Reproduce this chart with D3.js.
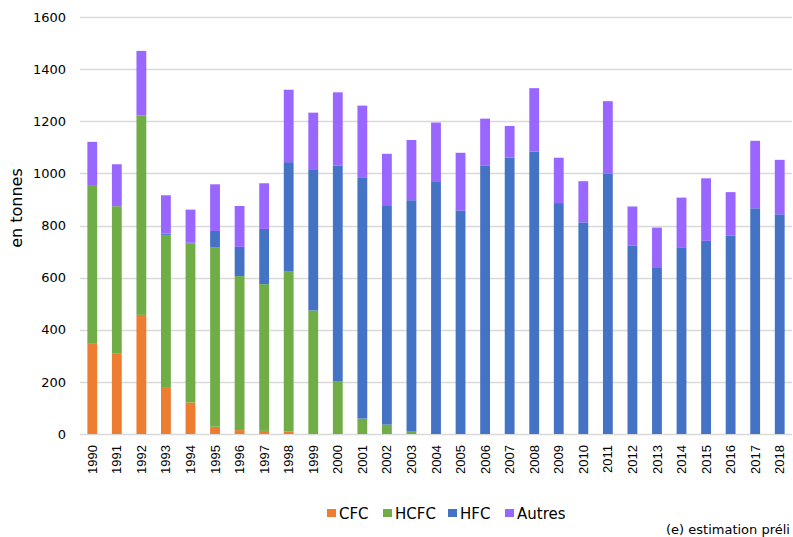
<!DOCTYPE html>
<html>
<head>
<meta charset="utf-8">
<script src="https://cdn.jsdelivr.net/npm/d3@7"></script>
<style>
  body { margin: 0; background: #fff; }
  svg { display: block; font-family: "DejaVu Sans", sans-serif; }
</style>
</head>
<body>
<div id="chart"></div>
<script>
const years = ["1990","1991","1992","1993","1994","1995","1996","1997","1998","1999",
  "2000","2001","2002","2003","2004","2005","2006","2007","2008","2009",
  "2010","2011","2012","2013","2014","2015","2016","2017","2018"];
const cfc    = [346,308,457,180,121,28,15,12,9,0, 0,0,0,0,0,0,0,0,0,0, 0,0,0,0,0,0,0,0,0];
const hcfc   = [606,566,765,584,610,689,591,563,616,474, 203,59,36,9,0,0,0,0,0,0, 0,0,0,0,0,0,0,0,0];
const hfc    = [0,0,0,5,3,62,112,212,418,542, 826,926,842,888,970,858,1029,1060,1083,886, 812,998,722,640,714,741,762,866,843];
const autres = [169,161,248,147,127,179,157,175,278,217, 282,275,197,231,225,221,181,122,244,174, 158,279,151,152,193,240,166,259,209];
const yTicks = [0,200,400,600,800,1000,1200,1400,1600];

const series = [
  { name: "CFC", values: cfc, color: "#ed7d31" },
  { name: "HCFC", values: hcfc, color: "#70ad47" },
  { name: "HFC", values: hfc, color: "#4472c4" },
  { name: "Autres", values: autres, color: "#9966ff" }
];

const W = 793, H = 537;
const margin = { top: 17, right: 1, bottom: 103, left: 80 };
const innerW = W - margin.left - margin.right;
const innerH = H - margin.top - margin.bottom;

const svg = d3.select("#chart").append("svg")
    .attr("width", W)
    .attr("height", H);

const g = svg.append("g")
    .attr("transform", `translate(${margin.left},${margin.top})`);

const x = d3.scaleBand()
    .domain(years)
    .range([0, innerW])
    .paddingInner(0.6)
    .paddingOuter(0.3);

const y = d3.scaleLinear()
    .domain([0, 1600])
    .range([innerH, 0]);

// gridlines
g.append("g")
    .selectAll("line")
    .data(yTicks)
    .join("line")
    .attr("x1", 0)
    .attr("x2", innerW)
    .attr("y1", d => Math.round(y(d)) + 0.5)
    .attr("y2", d => Math.round(y(d)) + 0.5)
    .attr("stroke", "#d9d9d9")
    .attr("stroke-width", 1.5);

// stacked data
const rows = years.map((yr, i) => {
    const r = { year: yr };
    series.forEach(s => r[s.name] = s.values[i]);
    return r;
});
const stack = d3.stack().keys(series.map(s => s.name))(rows);

g.append("g")
    .selectAll("g")
    .data(stack)
    .join("g")
    .attr("fill", (d, i) => series[i].color)
    .selectAll("rect")
    .data(d => d)
    .join("rect")
    .attr("x", d => x(d.data.year))
    .attr("width", x.bandwidth())
    .attr("y", d => y(d[1]))
    .attr("height", d => Math.max(0, y(d[0]) - y(d[1])));

// y axis labels
g.append("g")
    .attr("class", "y axis")
    .call(d3.axisLeft(y).tickValues(yTicks).tickFormat(d3.format("d")).tickSize(0).tickPadding(14))
    .call(a => a.select(".domain").remove())
    .call(a => a.selectAll("text")
        .attr("font-size", 13)
        .attr("font-family", "'DejaVu Sans', sans-serif")
        .attr("fill", "#000"));

// x axis labels
g.append("g")
    .attr("class", "x axis")
    .attr("transform", `translate(0,${innerH})`)
    .call(d3.axisBottom(x).tickSize(0))
    .call(a => a.select(".domain").remove())
    .call(a => a.selectAll("text")
        .attr("font-size", 13)
        .attr("font-family", "'Liberation Sans', Arial, sans-serif")
        .attr("fill", "#000")
        .attr("text-anchor", "end")
        .attr("dy", "0.35em")
        .attr("transform", "translate(0,11) rotate(-90)")
        .attr("x", 0)
        .attr("y", 0));

// axis title
svg.append("text")
    .attr("transform", "translate(22,208) rotate(-90)")
    .attr("text-anchor", "middle")
    .attr("font-size", 16)
    .attr("fill", "#000")
    .text("en tonnes");

// legend
const legendX = [327, 383, 448, 505];
const legend = svg.append("g")
    .selectAll("g")
    .data(series)
    .join("g")
    .attr("transform", (d, i) => `translate(${legendX[i]},509)`);
legend.append("rect")
    .attr("width", 9)
    .attr("height", 8)
    .attr("fill", d => d.color);
legend.append("text")
    .attr("x", 12)
    .attr("y", 9.5)
    .attr("font-size", 15)
    .attr("fill", "#000")
    .text(d => d.name);

svg.append("text")
    .attr("x", 666)
    .attr("y", 534)
    .attr("font-size", 13)
    .attr("fill", "#000")
    .text("(e) estimation préli");
</script>
</body>
</html>
